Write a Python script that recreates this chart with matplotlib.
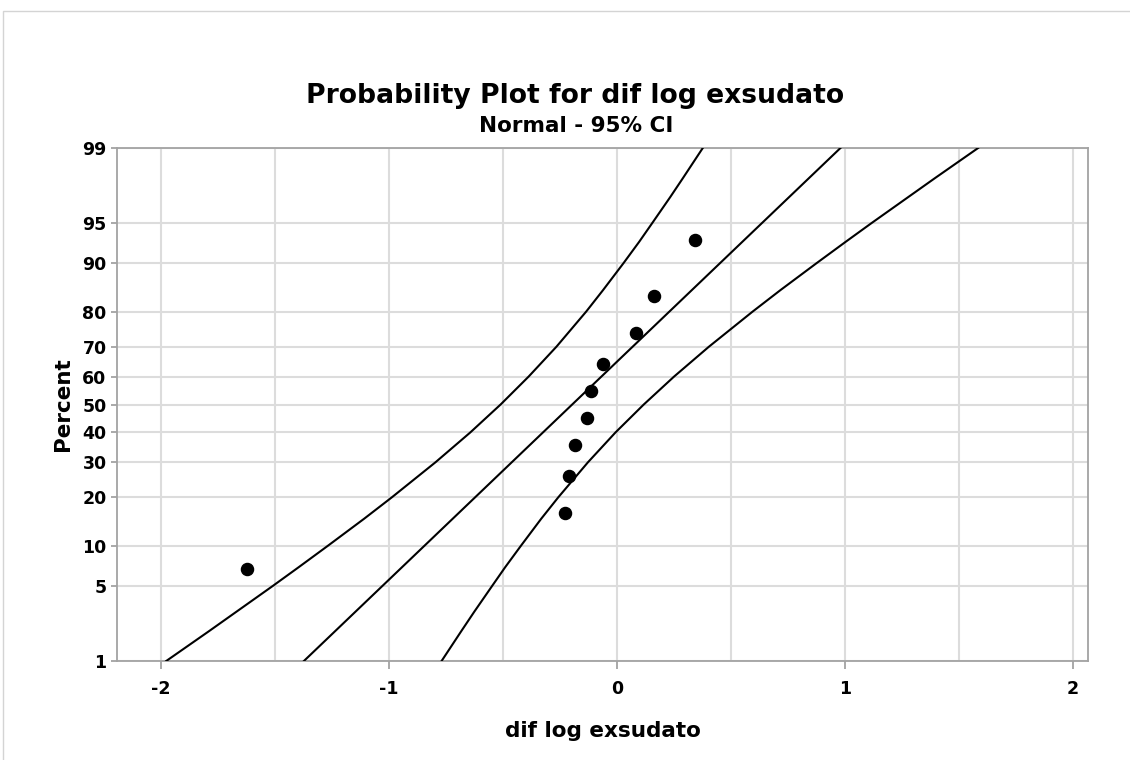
import numpy as np
import matplotlib
matplotlib.use("Agg")
import matplotlib.pyplot as plt
from matplotlib.patches import Rectangle
from matplotlib.ticker import NullLocator
from statistics import NormalDist

plt.rcParams['font.family'] = ['DejaVu Sans']

TITLE = 'Probability Plot for dif log exsudato'
SUBTITLE = 'Normal - 95% CI'
X_LABEL = 'dif log exsudato'
Y_LABEL = 'Percent'

# sample points (value, plotting position in percent)
data_x = [-1.621, -0.227, -0.209, -0.184, -0.132, -0.115, -0.061, 0.083, 0.162, 0.345]
data_pct = [6.73, 16.35, 25.96, 35.58, 45.19, 54.81, 64.42, 74.04, 83.65, 93.27]

# fitted line, read at both ends
fit_pct = [1, 99]
fit_x = [-1.373, 0.981]

band_pct = [1, 2, 3, 5, 7, 10, 15, 20, 30, 40, 50, 60, 70, 80, 85, 90, 93, 95, 97, 98, 99]
band_left_x = [-1.977, -1.788, -1.670, -1.509, -1.396, -1.268, -1.109, -0.987, -0.796,
               -0.643, -0.510, -0.387, -0.265, -0.135, -0.061, 0.029, 0.098, 0.155,
               0.234, 0.290, 0.377]
band_right_x = [-0.769, -0.682, -0.626, -0.547, -0.490, -0.421, -0.332, -0.257, -0.127,
                -0.006, 0.118, 0.251, 0.404, 0.595, 0.717, 0.876, 1.004, 1.117,
                1.278, 1.396, 1.585]

pct_ticks = [1, 5, 10, 20, 30, 40, 50, 60, 70, 80, 90, 95, 99]
x_ticks = [-2, -1, 0, 1, 2]
x_minor = [-1.5, -0.5, 0.5, 1.5]

nd = NormalDist()


def to_z(p):
    p = np.clip(np.asarray(p, dtype=float), 1e-6, 100 - 1e-6)
    return np.vectorize(lambda v: nd.inv_cdf(v / 100), otypes=[float])(p)


def from_z(z):
    return np.vectorize(lambda v: nd.cdf(v) * 100, otypes=[float])(np.asarray(z, dtype=float))


fig = plt.figure(figsize=(11.3, 7.6), dpi=100)
fig.patches.append(Rectangle((3 / 1130, -0.05), 1.2, 1.05 - 11 / 760,
                             transform=fig.transFigure, fill=False,
                             edgecolor='#d4d4d4', linewidth=1))

ax = fig.add_axes([117 / 1130, 1 - 661 / 760, (1088 - 117) / 1130, (661 - 148) / 760])
ax.set_yscale('function', functions=(to_z, from_z))

grey = '#a3a3a3'
ax.plot(band_left_x, band_pct, color='black', lw=1.5, zorder=3)
ax.plot(band_right_x, band_pct, color='black', lw=1.5, zorder=3)
ax.plot(fit_x, fit_pct, color='black', lw=1.5, zorder=3)
ax.plot(data_x, data_pct, 'o', color='black', markersize=8.7, zorder=4)

ax.set_xlim(-2.193, 2.067)
ax.set_ylim(1, 99)
ax.set_yticks(pct_ticks)
ax.set_yticklabels([str(t) for t in pct_ticks])
ax.yaxis.set_minor_locator(NullLocator())
ax.set_xticks(x_ticks)
ax.set_xticklabels([str(t) for t in x_ticks])
ax.set_xticks(x_minor, minor=True)

ax.grid(True, which='both', color='#dcdcdc', linewidth=1.5, zorder=0)
ax.set_axisbelow(True)
for s in ax.spines.values():
    s.set_color(grey)
    s.set_linewidth(1.3)
ax.tick_params(which='major', width=1.3, color=grey, labelsize=12.5)
ax.tick_params(axis='x', which='major', length=6, pad=8)
ax.tick_params(axis='y', which='major', length=4.5, pad=3)
ax.tick_params(which='minor', length=0)
for lab in ax.get_xticklabels() + ax.get_yticklabels():
    lab.set_fontweight('bold')

ax.set_xlabel(X_LABEL, fontsize=15.5, fontweight='bold', labelpad=16)
ax.set_ylabel(Y_LABEL, fontsize=15.5, fontweight='bold', labelpad=7)

fig.text(575 / 1130, 1 - 96 / 760, TITLE, ha='center', va='center', fontsize=19.2, fontweight='bold')
fig.text(576 / 1130, 1 - 126 / 760, SUBTITLE, ha='center', va='center', fontsize=15.5, fontweight='bold')

fig.savefig('out.png', dpi=100)
